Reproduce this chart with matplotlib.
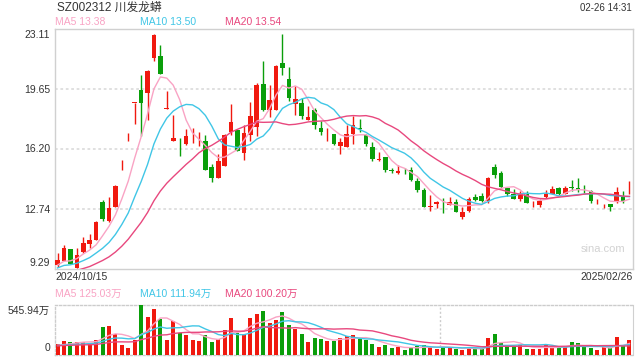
import numpy as np
import pandas as pd
import matplotlib
matplotlib.use("Agg")
import matplotlib.pyplot as plt

plt.rcParams['font.family'] = ['Liberation Sans', 'Noto Sans CJK SC', 'DejaVu Sans']

# daily candles (2024/10/15 .. 2025/02/26)
opens = [9.53, 9.79, 10.47, 9.39, 10.28, 10.77, 10.99, 13.17, 12.06, 12.88,
         15.57, 17.13, 18.87, 19.62, 19.47, 21.46, 21.56, 18.53, 16.67, 16.57,
         16.51, 16.84, 16.67, 16.67, 15.17, 14.52, 15.26, 17.20, 17.30, 16.01,
         17.05, 17.47, 19.97, 18.49, 18.49, 21.18, 20.25, 18.78, 18.87, 17.91,
         18.49, 17.43, 17.18, 17.09, 16.38, 16.36, 17.09, 17.43, 17.05, 16.34,
         15.60, 15.76, 15.00, 14.84, 15.00, 14.99, 14.36, 13.86, 12.90, 13.07,
         13.11, 13.02, 13.17, 12.29, 12.67, 13.46, 13.50, 13.21, 15.17, 14.84,
         13.98, 13.63, 13.31, 13.65, 13.04, 13.02, 13.48, 13.65, 13.98, 13.65,
         14.02, 13.98, 13.86, 13.79, 13.20, 12.91, 13.06, 13.15, 13.50, 13.84]
closes = [9.81, 10.52, 9.62, 10.10, 10.81, 10.95, 12.02, 12.21, 12.83, 14.09,
          15.57, 17.13, 18.87, 18.89, 20.70, 22.81, 20.56, 18.53, 16.86, 16.55,
          16.95, 16.86, 16.69, 15.03, 14.52, 15.51, 17.01, 17.78, 16.13, 17.14,
          18.12, 19.93, 18.49, 19.06, 21.02, 20.89, 19.16, 19.10, 18.11, 18.05,
          17.62, 17.20, 17.20, 16.51, 16.63, 17.09, 17.59, 17.36, 16.51, 15.65,
          15.62, 15.03, 14.96, 14.94, 14.98, 14.44, 13.86, 12.90, 12.92, 13.19,
          13.09, 13.19, 12.60, 12.60, 13.31, 13.29, 13.21, 14.52, 14.71, 14.04,
          13.60, 13.36, 13.60, 13.08, 13.06, 13.21, 13.63, 13.92, 13.65, 13.98,
          14.00, 13.83, 13.84, 13.21, 13.21, 12.92, 12.87, 13.75, 13.25, 13.86]
highs = [10.24, 10.68, 10.47, 10.52, 11.14, 11.33, 12.10, 13.29, 13.44, 14.17,
         15.57, 17.13, 18.87, 20.46, 20.77, 22.84, 22.19, 19.54, 18.20, 16.86,
         17.38, 17.43, 17.20, 17.01, 15.36, 15.94, 17.09, 18.78, 17.34, 17.59,
         18.93, 20.02, 21.31, 19.93, 21.08, 22.84, 20.93, 19.83, 19.16, 18.68,
         18.58, 17.82, 17.43, 17.09, 16.86, 17.62, 18.10, 17.97, 17.09, 16.61,
         16.05, 15.76, 15.13, 15.32, 15.13, 15.19, 14.55, 13.98, 13.56, 13.25,
         13.40, 13.48, 13.31, 12.87, 13.46, 13.60, 13.69, 14.59, 15.38, 14.94,
         13.98, 13.94, 13.79, 13.79, 13.25, 13.31, 13.88, 14.07, 14.02, 14.07,
         14.46, 14.52, 14.17, 13.84, 13.31, 13.06, 13.06, 14.02, 13.79, 14.40]
lows = [9.41, 9.76, 9.57, 9.37, 10.22, 10.49, 10.95, 12.06, 12.02, 12.87,
        14.98, 16.67, 17.68, 16.99, 17.86, 21.27, 20.56, 18.53, 16.67, 15.84,
        16.43, 16.57, 16.38, 15.03, 14.30, 14.52, 15.26, 17.01, 16.09, 15.57,
        16.67, 16.95, 18.43, 18.05, 18.49, 20.46, 19.01, 18.16, 17.97, 17.86,
        17.39, 17.01, 16.67, 16.43, 15.94, 16.36, 16.51, 17.20, 16.38, 15.55,
        15.51, 14.90, 14.84, 14.75, 14.80, 14.40, 13.73, 12.90, 12.67, 12.83,
        12.52, 13.02, 12.60, 12.21, 12.60, 13.25, 13.17, 13.12, 14.52, 13.98,
        13.50, 13.31, 13.21, 13.08, 12.90, 12.90, 13.40, 13.60, 13.56, 13.60,
        13.79, 13.75, 13.69, 13.12, 13.06, 12.81, 12.67, 13.12, 13.12, 13.65]
# volume, 万 shares
volumes = [120, 153, 142, 142, 142, 135, 164, 306, 320, 229,
           109, 76, 164, 546, 419, 502, 389, 164, 371, 244,
           218, 164, 153, 218, 142, 171, 273, 404, 244, 226,
           408, 451, 480, 353, 382, 466, 328, 288, 229, 142,
           186, 175, 153, 153, 186, 207, 218, 175, 164, 120,
           87, 109, 76, 87, 55, 76, 98, 109, 87, 66,
           87, 87, 66, 55, 76, 66, 66, 186, 229, 131,
           87, 98, 109, 66, 66, 66, 109, 98, 76, 87,
           142, 131, 87, 76, 55, 87, 76, 197, 109, 164]
# days before the window, only feeding the moving averages
pre_close = [8.5, 8.55, 8.6, 8.7, 8.65, 8.6, 8.7, 8.65, 8.55, 8.8,
             9.1, 9.25, 9.2, 9.3, 9.21, 9.4, 9.5, 9.45, 9.49]
pre_vol = [95, 100, 90, 105, 98, 110, 92, 100, 96, 104,
           99, 108, 94, 101, 97, 112, 103, 95, 100]

start_label = "2024/10/15"
end_label = "2025/02/26"

RED = "#f0190f"
GREEN = "#0a9e0a"
C_MA5 = "#f9a3c4"
C_MA10 = "#40c6e6"
C_MA20 = "#e8487e"
TXT = "#333333"

n = len(closes)
x = np.arange(n)
cl = pd.Series(pre_close + closes)
vo = pd.Series(pre_vol + volumes)
k = len(pre_close)
ma = {w: cl.rolling(w).mean().values[k:] for w in (5, 10, 20)}
vma = {w: vo.rolling(w).mean().values[k:] for w in (5, 10, 20)}

fig = plt.figure(figsize=(6.4, 3.6), dpi=100)
ax = fig.add_axes([55/640, 1 - 269.3/360, 578/640, 240/360])
axv = fig.add_axes([55/640, 5/360, 578/640, 50/360])

up = np.array(closes) >= np.array(opens)
cols = [RED if u else GREEN for u in up]

# candles
ax.vlines(x, lows, highs, colors=cols, lw=1.0, zorder=3)
body_lo = np.minimum(opens, closes)
body_h = np.maximum(np.abs(np.array(closes) - np.array(opens)), 0.03)
ax.bar(x, body_h, 0.72, bottom=body_lo, color=cols, zorder=4)

ax.plot(x, ma[5], color=C_MA5, lw=1.0, zorder=5)
ax.plot(x, ma[10], color=C_MA10, lw=1.0, zorder=5)
ax.plot(x, ma[20], color=C_MA20, lw=1.0, zorder=5)

ymin, ymax = 9.29, 23.11
ax.set_ylim(ymin, ymax)
ax.set_xlim(-0.4, 89.55)
step = (ymax - ymin) / 4
for i in range(1, 4):
    ax.axhline(ymin + step * i, color="#dddddd", lw=1.3, ls=(0, (1.5, 1.5)), zorder=1)
ax.set_xticks([])
ax.set_yticks([])
for s in ax.spines.values():
    s.set_color("#d0d0d0")
    s.set_linewidth(1.0)

# y labels (top and bottom nudged inside like the source)
ylabs = ["9.29", "12.74", "16.20", "19.65", "23.11"]
ypix = [263, 209.6, 149.3, 89.7, 35]
for lab, yp in zip(ylabs, ypix):
    fig.text(50/640, 1 - yp/360, lab, ha="right", va="center", fontsize=7.5, color=TXT)

fig.text(57/640, 1 - 8/360, "SZ002312 川发龙蟒", ha="left", va="center", fontsize=8.5, color=TXT)
fig.text(632/640, 1 - 8/360, "02-26 14:31", ha="right", va="center", fontsize=7, color=TXT)

fig.text(55/640, 1 - 22/360, "MA5 %.2f" % 13.38, color=C_MA5, fontsize=7.5, va="center")
fig.text(140/640, 1 - 22/360, "MA10 %.2f" % 13.50, color=C_MA10, fontsize=7.5, va="center")
fig.text(225/640, 1 - 22/360, "MA20 %.2f" % 13.54, color=C_MA20, fontsize=7.5, va="center")

fig.text(55/640, 1 - 277/360, start_label, ha="left", va="center", fontsize=7.5, color=TXT)
fig.text(633/640, 1 - 277/360, end_label, ha="right", va="center", fontsize=7.5, color=TXT)
fig.text(603/640, 1 - 249/360, "sina.com", ha="center", va="center", fontsize=8, color="#d2d2d2")

# volume panel
vtop = 545.94
axv.bar(x, volumes, 0.62, color=cols, zorder=3)
axv.plot(x, vma[5], color=C_MA5, lw=1.0, zorder=4)
axv.plot(x, vma[10], color=C_MA10, lw=1.0, zorder=4)
axv.plot(x, vma[20], color=C_MA20, lw=1.0, zorder=4)
axv.set_ylim(0, vtop)
axv.set_xlim(-0.4, 89.55)
axv.set_xticks([])
axv.set_yticks([])
axv.axvline(59.5, color="#cccccc", lw=1.0, ls=(0, (1.5, 1.5)), zorder=1)
for side in ("top", "bottom", "left"):
    axv.spines[side].set_color("#cccccc")
    axv.spines[side].set_linestyle((0, (1.5, 1.5)))
    axv.spines[side].set_linewidth(1.0)
axv.spines["right"].set_color("#d0d0d0")

fig.text(55/640, 1 - 294/360, "MA5 %.2f万" % 125.03, color=C_MA5, fontsize=7.5, va="center")
fig.text(140/640, 1 - 294/360, "MA10 %.2f万" % 111.94, color=C_MA10, fontsize=7.5, va="center")
fig.text(225/640, 1 - 294/360, "MA20 %.2f万" % 100.20, color=C_MA20, fontsize=7.5, va="center")
fig.text(50/640, 1 - 311/360, "%.2f万" % vtop, ha="right", va="center", fontsize=7.5, color=TXT)
fig.text(50/640, 1 - 348/360, "0", ha="right", va="center", fontsize=7.5, color=TXT)

fig.savefig("out.png", dpi=100, facecolor="white")
